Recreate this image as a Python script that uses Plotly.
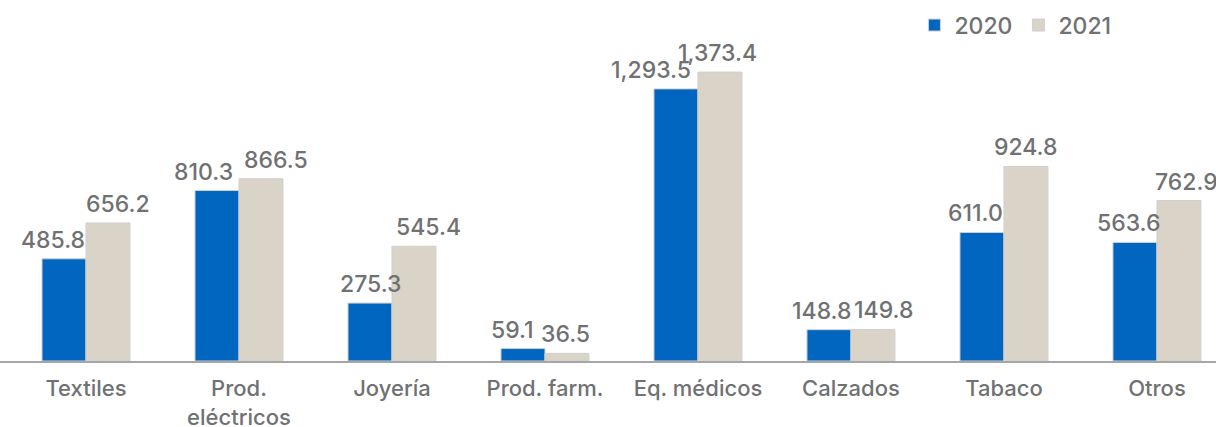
import plotly.graph_objects as go

categories = ["Textiles", "Prod.<br>eléctricos", "Joyería", "Prod. farm.", "Eq. médicos",
              "Calzados", "Tabaco", "Otros"]
values_2020 = [485.8, 810.3, 275.3, 59.1, 1293.5, 148.8, 611.0, 563.6]
values_2021 = [656.2, 866.5, 545.4, 36.5, 1373.4, 149.8, 924.8, 762.9]

# label nudges (px) as in the source chart
nudge_2020 = [-33, -35, -21, -32, -47, -29, -28, -28]
nudge_2021 = [32, 37, 37, 21, 20, 33, 22, 30]

FONT = "Inter"
TXT = "#707173"

fig = go.Figure()
fig.add_trace(go.Bar(
    x=categories, y=values_2020, name="2020",
    marker=dict(color="#0066c0", line=dict(color="#d0d0d0", width=1)),
))
fig.add_trace(go.Bar(
    x=categories, y=values_2021, name="2021",
    marker=dict(color="#d9d3c8", line=dict(color="#d0d0d0", width=1)),
))

for vals, nudges in ((values_2020, nudge_2020), (values_2021, nudge_2021)):
    for c, v, s in zip(categories, vals, nudges):
        fig.add_annotation(x=c, y=v, xref="x", yref="y", text=f"{v:,.1f}",
                           showarrow=False, xanchor="center", yanchor="bottom",
                           xshift=s, yshift=3,
                           font=dict(family=FONT, size=23, color=TXT, weight=500))

fig.update_layout(
    width=1216, height=427,
    margin=dict(l=0, r=0, t=0, b=66, autoexpand=False),
    paper_bgcolor="white", plot_bgcolor="white",
    barmode="group", bargap=0.425, bargroupgap=0,
    font=dict(family=FONT, color=TXT, size=20),
    legend=dict(orientation="h", x=0.752, y=0.99, xanchor="left", yanchor="top",
                font=dict(family=FONT, size=23, color=TXT, weight=500),
                bgcolor="rgba(0,0,0,0)",
                traceorder="normal", itemwidth=30, entrywidth=59, entrywidthmode="pixels"),
    xaxis=dict(range=[-0.562, 7.386], showline=True, linecolor="#a6a6a6", linewidth=1.5,
               ticks="", tickfont=dict(family=FONT, size=22, color=TXT, weight=500),
               showgrid=False, ticklabelstandoff=7,
               fixedrange=True, automargin=False),
    yaxis=dict(range=[0, 1716], visible=False, showgrid=False, zeroline=False,
               automargin=False, fixedrange=True),
)

fig.write_html("out.html", config={"displayModeBar": False},
               post_script="document.body.style.margin='0';")
